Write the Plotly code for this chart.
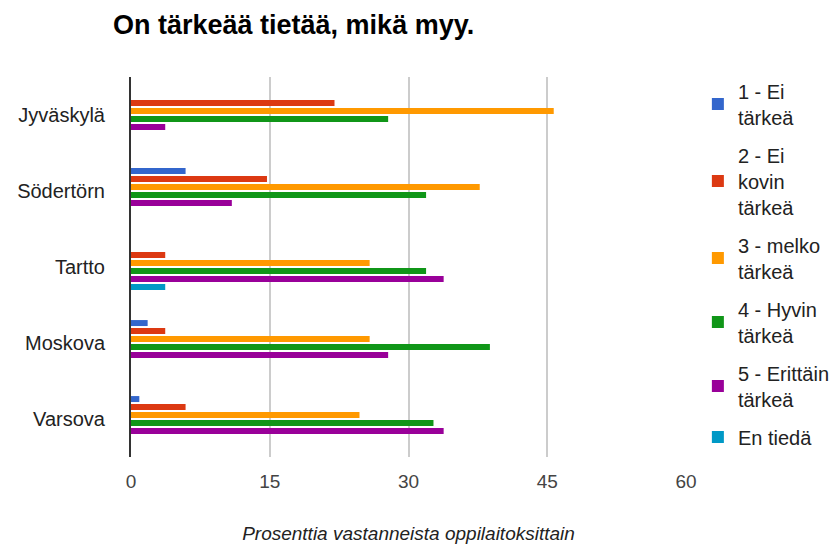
import plotly.graph_objects as go

categories = ["Jyväskylä", "Södertörn", "Tartto", "Moskova", "Varsova"]

series_names = [
    "1 - Ei<br>tärkeä",
    "2 - Ei<br>kovin<br>tärkeä",
    "3 - melko<br>tärkeä",
    "4 - Hyvin<br>tärkeä",
    "5 - Erittäin<br>tärkeä",
    "En tiedä",
]

s1_ei_tarkea = [0, 5.9, 0, 1.8, 0.9]
s2_ei_kovin = [22, 14.7, 3.7, 3.7, 5.9]
s3_melko = [45.7, 37.7, 25.8, 25.8, 24.7]
s4_hyvin = [27.8, 31.9, 31.9, 38.8, 32.7]
s5_erittain = [3.7, 10.9, 33.8, 27.8, 33.8]
s6_en_tieda = [0, 0, 3.7, 0, 0]

series_values = [s1_ei_tarkea, s2_ei_kovin, s3_melko, s4_hyvin, s5_erittain, s6_en_tieda]
colors = ["#3366cc", "#dc3912", "#ff9900", "#109618", "#990099", "#0099c6"]

x_ticks = [0, 15, 30, 45, 60]

FONT = "Arial, Liberation Sans, sans-serif"

fig = go.Figure()
for i, (name, vals, col) in enumerate(zip(series_names, series_values, colors)):
    fig.add_trace(go.Bar(
        y=categories, x=vals, name=name, orientation="h",
        legendgroup=f"g{i}",
        marker=dict(color=col, line=dict(width=0)),
        hoverinfo="x+y",
    ))

fig.update_layout(
    width=835, height=548,
    margin=dict(l=131, r=149, t=77, b=91, autoexpand=False),
    paper_bgcolor="white", plot_bgcolor="white",
    barmode="group", bargap=0.37, bargroupgap=0.25,
    font=dict(family=FONT, size=20, color="#222222"),
    title=dict(
        text="<b>On tärkeää tietää, mikä myy.</b>",
        font=dict(family=FONT, size=27, color="#000000"),
        x=113 / 835, xref="container", xanchor="left",
        y=1 - 25 / 548, yref="container", yanchor="middle",
    ),
    xaxis=dict(
        range=[0, 60], tickvals=x_ticks, ticktext=[str(t) for t in x_ticks],
        showgrid=True, gridcolor="#cccccc", gridwidth=1.5,
        zeroline=False, showline=False, ticks="",
        tickfont=dict(family=FONT, size=19, color="#444444"),
        ticklabelstandoff=11,
        title=dict(text="<i>Prosenttia vastanneista oppilaitoksittain</i>",
                   font=dict(family=FONT, size=19, color="#222222"),
                   standoff=35),
        automargin=False,
        fixedrange=True,
    ),
    yaxis=dict(
        autorange="reversed", showgrid=False, zeroline=False,
        showline=True, linecolor="#333333", linewidth=2,
        ticks="", ticklabelstandoff=20,
        tickfont=dict(family=FONT, size=20, color="#222222"),
        automargin=False,
        fixedrange=True,
    ),
    legend=dict(
        x=1.0214, xanchor="left", y=1.0145, yanchor="top",
        font=dict(family=FONT, size=20, color="#222222"),
        bgcolor="rgba(0,0,0,0)", traceorder="grouped", tracegroupgap=9,
        maxheight=1,
    ),
    showlegend=True,
)

fig.write_html("out.html", config={"displayModeBar": False},
               post_script="document.body.style.margin='0';")
